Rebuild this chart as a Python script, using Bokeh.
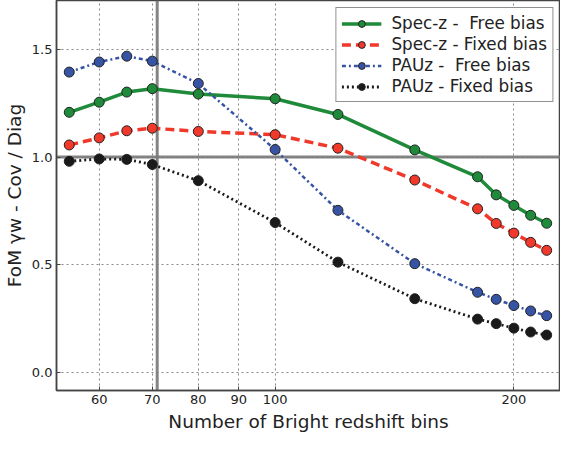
from bokeh.plotting import figure
from bokeh.models import (Range1d, FixedTicker, PrintfTickFormatter, Span,
                          Legend, LegendItem)
from bokeh.embed import file_html
from bokeh.resources import INLINE

# ---- data ----
nbins = [55, 60, 65, 70, 80, 100, 120, 150, 180, 190, 200, 210, 220]
specz_free = [1.208, 1.255, 1.302, 1.318, 1.293, 1.271, 1.198, 1.033, 0.908, 0.824, 0.775, 0.729, 0.692]
specz_fixed = [1.056, 1.089, 1.122, 1.134, 1.119, 1.104, 1.041, 0.893, 0.759, 0.691, 0.646, 0.603, 0.566]
pauz_free = [1.395, 1.442, 1.469, 1.446, 1.342, 1.035, 0.752, 0.504, 0.371, 0.338, 0.309, 0.284, 0.262]
pauz_fixed = [0.980, 0.991, 0.989, 0.965, 0.890, 0.695, 0.511, 0.341, 0.246, 0.225, 0.204, 0.186, 0.172]
x_ticks = [60, 70, 80, 90, 100, 200]
y_ticks = [0.0, 0.5, 1.0, 1.5]
ref_x = 71
ref_y = 1.0

series = [
    ("Spec-z -  Free bias", specz_free, "#1f8a3a", "solid", 3.5),
    ("Spec-z - Fixed bias", specz_fixed, "#f0392b", "9 5", 3.5),
    ("PAUz -  Free bias", pauz_free, "#3653a4", "4 3 2 3", 2.5),
    ("PAUz - Fixed bias", pauz_fixed, "#1a1a1a", "2 3", 2.8),
]

FONT = "DejaVu Sans"

p = figure(width=560, height=434, x_axis_type="log",
           x_range=Range1d(53, 229), y_range=Range1d(-0.086, 1.728),
           output_backend="svg", toolbar_location=None,
           min_border_left=5, min_border_right=0, min_border_top=0, min_border_bottom=0)
p.background_fill_color = "white"
p.border_fill_color = "white"
p.outline_line_color = "#444444"
p.outline_line_width = 1.5

p.xaxis.ticker = FixedTicker(ticks=x_ticks)
p.xaxis.formatter = PrintfTickFormatter(format="%d")
p.xaxis.minor_tick_line_color = None
p.yaxis.ticker = FixedTicker(ticks=y_ticks)
p.yaxis.formatter = PrintfTickFormatter(format="%.1f")
p.yaxis.minor_tick_line_color = None

for ax in (p.xaxis, p.yaxis):
    ax.axis_line_color = "#444444"
    ax.axis_line_width = 1.5
    ax.major_tick_line_color = "#444444"
    ax.major_tick_in = 4
    ax.major_tick_out = 0
    ax.major_label_text_font = FONT
    ax.major_label_text_font_size = "13px"
    ax.major_label_text_color = "#222222"
    ax.axis_label_text_font = FONT
    ax.axis_label_text_font_size = "18.5px"
    ax.axis_label_text_font_style = "normal"
    ax.axis_label_text_color = "#222222"
    ax.major_label_standoff = 4
    ax.axis_label_standoff = 4

p.xaxis.axis_label = "Number of Bright redshift bins"
p.yaxis.axis_label = "FoM γw - Cov / Diag"

for g in (p.xgrid, p.ygrid):
    g.grid_line_color = "#888888"
    g.grid_line_dash = "2 3"
    g.grid_line_width = 1
p.xgrid.ticker = FixedTicker(ticks=x_ticks)
p.ygrid.ticker = FixedTicker(ticks=y_ticks)

p.add_layout(Span(location=ref_y, dimension="width", line_color="#777777",
                  line_width=3, line_alpha=0.9, level="underlay"))
p.add_layout(Span(location=ref_x, dimension="height", line_color="#777777",
                  line_width=3, line_alpha=0.9, level="underlay"))

items = []
for label, ys, color, dash, lw in series:
    ln = p.line(nbins, ys, line_color=color, line_width=lw, line_dash=dash)
    sc = p.scatter(nbins, ys, size=10, fill_color=color, line_color="#222222",
                   line_width=1)
    items.append(LegendItem(label=label, renderers=[ln, sc]))

legend = Legend(items=items, location="top_right")
legend.label_text_font = FONT
legend.label_text_font_size = "16.8px"
legend.label_text_color = "#222222"
legend.border_line_color = "#222222"
legend.border_line_width = 1.2
legend.background_fill_color = "white"
legend.background_fill_alpha = 1.0
legend.glyph_width = 40
legend.glyph_height = 17
legend.label_height = 17
legend.spacing = 1
legend.padding = 5
legend.margin = 7
legend.label_standoff = 10
p.add_layout(legend)

open("out.html", "w").write(file_html(p, INLINE))
